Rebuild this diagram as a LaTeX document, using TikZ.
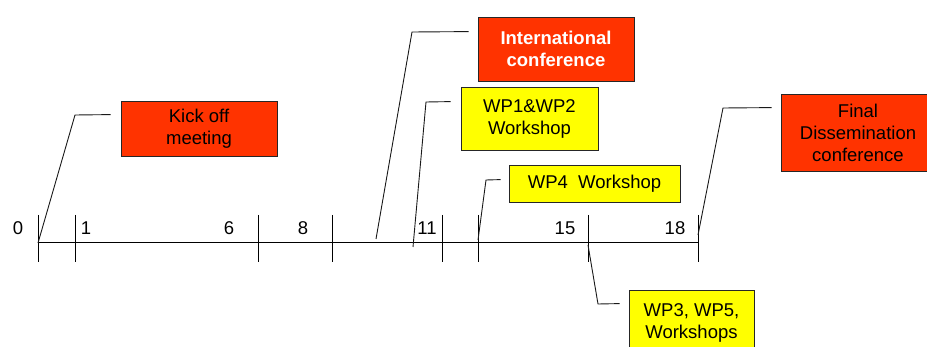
\documentclass[tikz,border=0pt]{standalone}
\usepackage{fontspec}
\setmainfont{Liberation Sans}
\usetikzlibrary{calc}
\definecolor{evred}{HTML}{FF3300}
\definecolor{evyel}{HTML}{FFFF00}
\tikzset{
  evbox/.style={draw=black!85, line width=0.8pt, align=center, inner sep=0pt,
    font=\fontsize{18.5}{22}\selectfont},
  redbox/.style={evbox, fill=evred},
  yelbox/.style={evbox, fill=evyel},
  tickline/.style={line width=0.9pt},
  callout/.style={line width=0.9pt, black!90},
  ticklabel/.style={font=\fontsize{18.5}{22}\selectfont, inner sep=0pt}
}
\begin{document}
\begin{tikzpicture}[x=1pt,y=-1pt]
\useasboundingbox (0,0) rectangle (927,347);
\clip (0,0) rectangle (927,347);
% axis
\coordinate (a0) at (38,242);
\coordinate (a18) at (698,242);
\draw[tickline] (a0) -- (a18);
\foreach \x/\n in {38/t0,75/t1,258/t6,332/t8,442/t11,478/t12,588/t15,698/t18}{
  \coordinate (\n top) at (\x,215);
  \coordinate (\n bot) at (\x,262);
  \draw[tickline] (\n top) -- (\n bot);
}
% labels
\node[ticklabel] (l0) at (18,228) {0};
\node[ticklabel] (l1) at (86,228) {1};
\node[ticklabel] (l6) at (229,228) {6};
\node[ticklabel] (l8) at (303,228) {8};
\node[ticklabel] (l11) at (427,228) {11};
\node[ticklabel] (l15) at (565,228) {15};
\node[ticklabel] (l18) at (675,228) {18};
% boxes
\node[redbox, minimum width=156, minimum height=55] (kick) at (199,128.5) {Kick off\\meeting};
\node[redbox, minimum width=156, minimum height=64, text=white, font=\fontsize{18.5}{22}\selectfont\bfseries] (intl) at (556,49) {International\\conference};
\node[yelbox, minimum width=137, minimum height=63] (wp12) at (529.5,118.5) {WP1\&WP2\\Workshop};
\node[yelbox, minimum width=171, minimum height=37] (wp4) at (594.5,183.5) {WP4\ \ Workshop};
\node[yelbox, minimum width=125, minimum height=66] (wp35) at (691.5,323) {WP3, WP5,\\Workshops};
\node[redbox, minimum width=154, minimum height=77] (final) at (858,132.5) {Final\\Dissemination\\conference};
% callout points
\coordinate (s1) at (38,243);  \coordinate (e1) at (75,115);
\coordinate (s2) at (376,239); \coordinate (e2) at (412,32);
\coordinate (s3) at (413,247); \coordinate (e3) at (426,102);
\coordinate (s4) at (478,240); \coordinate (e4) at (486,180);
\coordinate (s5) at (588,245); \coordinate (e5) at (598,304);
\coordinate (s6) at (698,235); \coordinate (e6) at (723,108);
\draw[callout] (s1) -- (e1) -- ($(kick.north west)+(-10,14)$);
\draw[callout] (s2) -- (e2) -- ($(intl.north west)+(-9,15)$);
\draw[callout] (s3) -- (e3) -- ($(wp12.north west)+(-10,15)$);
\draw[callout] (s4) -- (e4) -- ($(wp4.north west)+(-8,15)$);
\draw[callout] (s5) -- (e5) -- ($(wp35.north west)+(-9,14)$);
\draw[callout] (s6) -- (e6) -- ($(final.north west)+(-9,14)$);
\end{tikzpicture}
\end{document}
